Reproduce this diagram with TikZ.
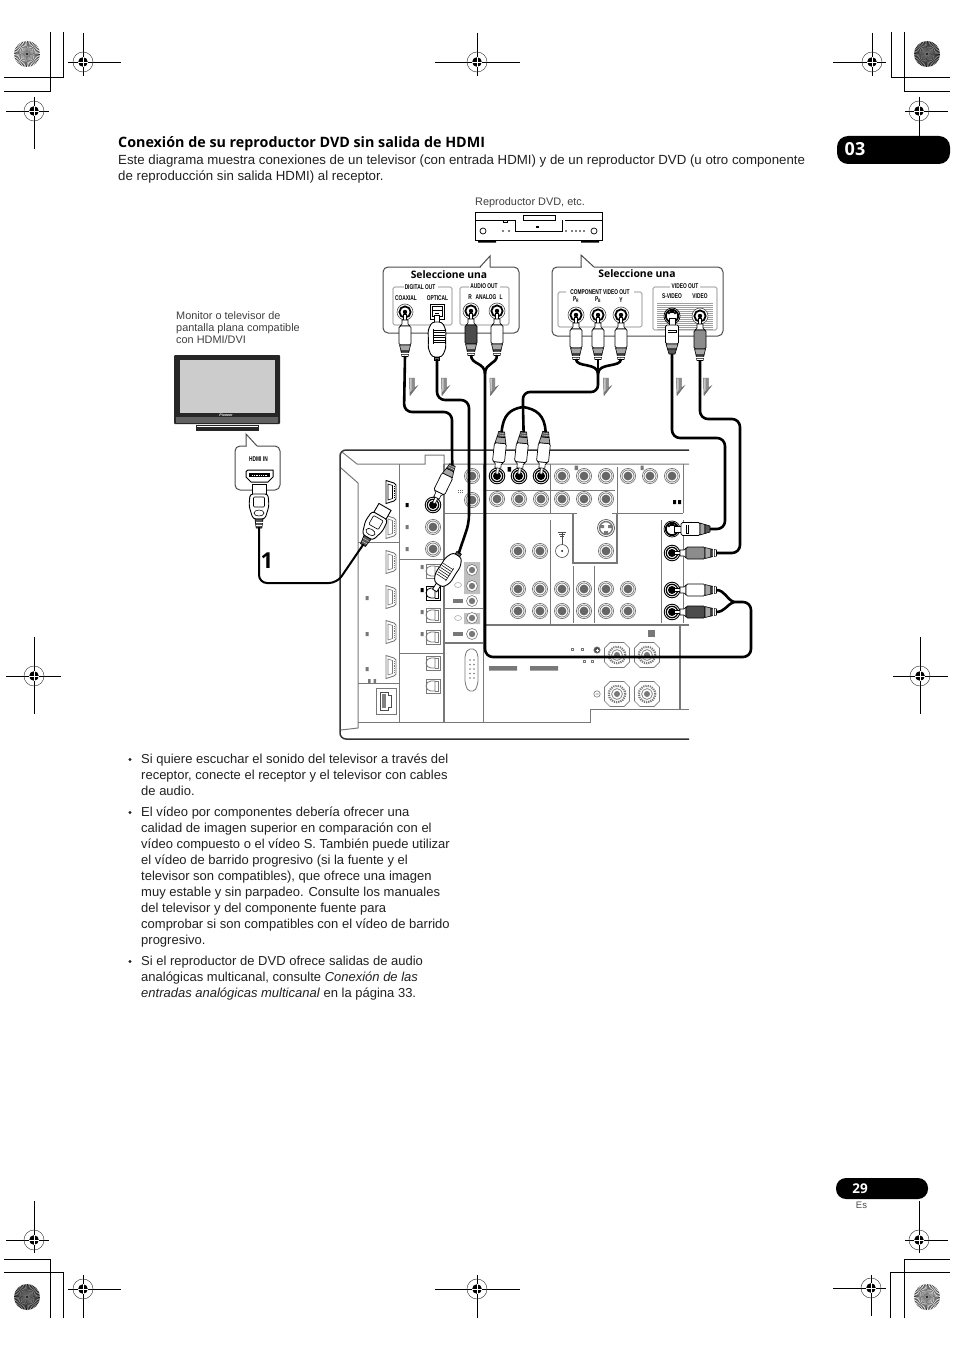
\documentclass[tikz,border=0pt]{standalone}
\usepackage{fontspec}
\usepackage{graphicx}
\setmainfont{Liberation Sans}
\newfontfamily\headfont{Open Sans}
\usetikzlibrary{calc}
\definecolor{ink}{gray}{0.13}
\definecolor{pan}{gray}{0.47}
\definecolor{soft}{gray}{0.72}
\newcommand\tinyb[1]{\scalebox{.7}[1]{\fontsize{6.9}{6.9}\selectfont\bfseries #1}}
\newcommand\regm[6]{%
  \draw[line width=.7pt] (#3,#2)--(#4,#2) (#1,#5)--(#1,#6);
  \draw[line width=.45pt,black!80] (#1,#2) circle (10pt);
  \fill[black] (#1,#2) circle (4.8pt);
  \draw[white,line width=.25pt] (#1-4.8,#2)--(#1+4.8,#2) (#1,#2-4.8)--(#1,#2+4.8);
}
\newcommand\sunb[4]{%
  \fill[gray!#3!black] (#1,#2) circle (13pt);
  \foreach \a in {0,7.5,...,352.5}{\fill[white,opacity=#4] (#1,#2) -- ++(\a:13pt) arc[start angle=\a,end angle=\a+3.6,radius=13pt] -- cycle;}
  \fill[gray!70!black,opacity=.45] (#1,#2) circle (4pt);
  \fill[black] (#1,#2) circle (1.1pt);
}
\newcommand\gbar[1]{%
  \draw[black!55,line width=.5pt,fill=black!22] (#1-3.7,378)--(#1+1.3,378)--(#1+1.3,388)--(#1+4.3,386)--(#1-3,395.5)--cycle;
  \fill[black!55] (#1+1.3,388)--(#1+4.3,386)--(#1-3,395.5)--(#1-3,392.5)--cycle;
  \fill[black!45] (#1-1.5,378)--(#1+1.3,378)--(#1+1.3,388)--(#1-1.5,391)--cycle;
}
\tikzset{
  x=1pt,y=-1pt,
  body/.style={inner sep=0pt,font=\fontsize{13}{16}\selectfont,text=ink,align=left},
  intro/.style={inner sep=0pt,font=\fontsize{13.26}{16}\selectfont,text=ink,align=left},
  grey/.style={inner sep=0pt,font=\fontsize{10.9}{12}\selectfont,text=black!75,align=left},
  lab/.style={inner sep=0pt,text=black},
  panel/.style={pan,line width=1pt},
  panelb/.style={pan,line width=1.5pt},
  edge/.style={black!80,line width=1.5pt,rounded corners=6pt},
  bubble/.style={draw=black!70,line width=1pt,fill=white,rounded corners=5pt},
  bracket/.style={draw=pan,line width=.6pt,rounded corners=1.5pt},
  cable/.style={black,line width=2.6pt,line join=round,rounded corners=8pt},
  % ---- jacks
  pics/gjack/.style={code={
    \draw[pan,line width=.7pt,fill=white] (0,0) circle (7.6pt);
    \draw[pan,line width=.7pt] (0,0) circle (6pt);
    \fill[pan!85!black] (0,0) circle (4.4pt);}},
  pics/ajack/.style={code={
    \draw[black,line width=.9pt,fill=white] (0,0) circle (7.8pt);
    \draw[black,line width=1.2pt] (0,0) circle (5.7pt);
    \fill[black] (0,0) circle (4pt);}},
  pics/djack/.style={code={
    \draw[black!70,line width=.6pt,fill=white] (0,0) circle (8pt);
    \draw[black,line width=1.8pt] (0,0) circle (5.6pt);
    \fill[black] (0,0) circle (2.2pt);}},
  pics/sjack/.style={code={
    \draw[black,line width=.7pt,fill=white] (0,0) circle (8pt);
    \draw[black,line width=1.8pt] (0,0) circle (6.2pt);
    \fill[black] (-3,-3) circle (1.3pt) (3,-3) circle (1.3pt);
    \fill[black] (-1.6,-5.5) rectangle (1.6,-3);}},
  pics/hport/.style={code={
    \draw[#1,line width=.9pt,fill=white] (-5,-11.5)--(3,-9)--(5,-7)--(5,7)--(3,9)--(-5,11.5)--cycle;
    \draw[#1,line width=.6pt] (-3,-8)--(1.5,-6.5)--(1.5,6.5)--(-3,8)--cycle;
    \draw[#1,line width=.8pt,densely dotted] (3,-6)--(3,6);}},
  pics/oport/.style={code={
    \draw[#1,line width=.8pt,fill=white] (-7,-7) rectangle (7,7);
    \draw[#1,line width=.8pt] (2,-5)--(-2,-5) arc[start angle=90,end angle=270,radius=5pt]--(2,5)--cycle;
    \draw[#1,line width=.8pt] (2,-5)--(5,-5)--(5,5)--(2,5);}},
  pics/term/.style={code={
    \draw[pan,line width=.7pt,fill=white] (-7,-12.5)--(7,-12.5)--(12.5,-7)--(12.5,7)--(7,12.5)--(-7,12.5)--(-12.5,7)--(-12.5,-7)--cycle;
    \draw[pan,line width=2.2pt,dash pattern=on 1.2pt off 1pt] (0,0) circle (8.2pt);
    \draw[pan,line width=.7pt] (0,0) circle (5.4pt);
    \fill[pan] (0,0) circle (3pt);}},
  % ---- plugs
  pics/rcaplug/.style={code={
    \draw[black,line width=.6pt,fill=white] (-1.4,2) rectangle (1.4,10);
    \draw[black,line width=.6pt,fill=white] (-3,8)--(3,8)--(3,12)--(5,14)--(-5,14)--(-3,12)--cycle;
    \draw[black,line width=.7pt,fill=#1,rounded corners=1.5pt] (-6,14) rectangle (6,33);
    \draw[black,line width=.6pt,fill=black!35] (-5.5,33)--(5.5,33)--(4,39)--(-4,39)--cycle;
    \draw[black,line width=.6pt,fill=black!65] (-4,39)--(4,39)--(3,44.5)--(-3,44.5)--cycle;
    \draw[white,line width=.3pt] (-3.6,41)--(3.6,41) (-3.2,43)--(3.2,43);
    \coordinate (-end) at (0,44);}},
  pics/svplug/.style={code={
    \draw[black,line width=.6pt,fill=white] (-3,2) rectangle (3,10);
    \draw[black,line width=.7pt,fill=white,rounded corners=1.5pt] (-6.5,9) rectangle (6.5,28);
    \fill[black] (-4.5,13.5) rectangle (4.5,17);
    \fill[white] (-4,14.8) rectangle (4,15.6);
    \draw[black,line width=.6pt,fill=black!35] (-6,28)--(6,28)--(4.5,33)--(-4.5,33)--cycle;
    \draw[black,line width=.6pt,fill=black!65] (-4.5,33)--(4.5,33)--(3,38)--(-3,38)--cycle;
    \coordinate (-end) at (0,38);}},
  pics/optplug/.style={code={
    \draw[black,line width=.8pt,fill=white] (-2.5,3) rectangle (2.5,12);
    \draw[black,line width=.9pt,fill=white,rounded corners=3pt] (-5,10)--(5,10)--(9,18)--(8.5,30)--(9,36)--(5,45)--(-5,45)--(-9,36)--(-8.5,30)--(-9,18)--cycle;
    \foreach \q in {18,20.5,...,31}{\draw[black,line width=.5pt] (-4,\q)--(7.5,\q);}
    \draw[black,line width=.5pt] (-4,17)--(-4,32);
    \draw[black,line width=.7pt,fill=black!60] (-2.6,45) rectangle (2.6,48);
    \coordinate (-end) at (0,47);}},
  pics/hdplug/.style={code={
    \draw[black,line width=.9pt,fill=white] (-7,8) rectangle (7,20);
    \draw[black,line width=.9pt,fill=white,rounded corners=3pt] (-9,18)--(9,18)--(10,30)--(6,43)--(-6,43)--(-10,30)--cycle;
    \draw[black,line width=.6pt,rounded corners=1pt] (-5.5,21) rectangle (5.5,31);
    \draw[black,line width=.6pt] (0,37) ellipse (5pt and 3pt);
    \draw[black,line width=.7pt,fill=black!65] (-4,43)--(4,43)--(2.8,52)--(-2.8,52)--cycle;
    \draw[white,line width=.3pt] (-3.5,46)--(3.5,46) (-3.2,49)--(3.2,49);
    \coordinate (-end) at (0,51);}},
}
\begin{document}
\begin{tikzpicture}
\useasboundingbox (0,0) rectangle (954,1351);
\fill[white] (0,0) rectangle (954,1351);

% ----- crop and registration marks
\draw[line width=.7pt] (63,32)--(63,77)--(4,77) (50.5,32)--(50.5,91)--(4,91);
\draw[line width=.7pt] (891,32)--(891,77)--(950,77) (904,32)--(904,91)--(950,91);
\draw[line width=.7pt] (50.5,1318)--(50.5,1259)--(4,1259) (63,1318)--(63,1272)--(4,1272);
\draw[line width=.7pt] (904,1318)--(904,1259)--(950,1259) (890.5,1318)--(890.5,1272)--(950,1272);
\regm{83}{62}{68}{121}{33}{76}
\regm{34}{111}{6}{49}{97}{149}
\regm{477}{62}{435}{520}{33}{76}
\regm{872}{62}{833}{886}{33}{76}
\regm{919}{111}{905}{948}{97}{149}
\regm{34}{676}{6}{61}{637}{714}
\regm{920}{676}{893}{948}{637}{714}
\regm{34}{1240}{6}{49}{1201}{1253}
\regm{83}{1289}{68}{121}{1275}{1318}
\regm{477}{1289}{435}{520}{1275}{1318}
\regm{871}{1288}{833}{886}{1275}{1316}
\regm{919}{1240}{905}{948}{1201}{1253}
\sunb{27}{54}{25}{.9}
\sunb{927}{54}{5}{.55}
\sunb{27}{1297}{5}{.55}
\sunb{927}{1297}{25}{.9}

% ----- page tabs
\fill[black,rounded corners=11pt] (837,136) rectangle (950,164);
\node[inner sep=0pt,text=white,font=\headfont\fontsize{18}{18}\selectfont\bfseries] (chapter) at (855,149.5) {03};
\fill[black,rounded corners=10pt] (836,1178) rectangle (928,1199);
\node[inner sep=0pt,text=white,font=\headfont\fontsize{13.5}{14}\selectfont\bfseries] (pagenum) at (860,1189) {29};
\node[inner sep=0pt,text=black!70,font=\fontsize{9.5}{10}\selectfont] (lang) at (861.5,1205.5) {Es};

% ----- headings
\node[anchor=base west,inner sep=0pt,text=black,font=\headfont\fontsize{14.3}{16}\selectfont\bfseries] (title) at (118,148) {Conexión de su reproductor DVD sin salida de HDMI};
\node[anchor=north west,intro] (introtext) at (118,154.4) {Este diagrama muestra conexiones de un televisor (con entrada HDMI) y de un reproductor DVD (u otro componente\\de reproducción sin salida HDMI) al receptor.};

% ----- bullets
\node[anchor=north west,body] (b1) at (141,754.2) {Si quiere escuchar el sonido del televisor a través del\\receptor, conecte el receptor y el televisor con cables\\de audio.};
\node[anchor=north west,body] (b2) at (141,807.2) {El vídeo por componentes debería ofrecer una\\calidad de imagen superior en comparación con el\\vídeo compuesto o el vídeo S. También puede utilizar\\el vídeo de barrido progresivo (si la fuente y el\\televisor son compatibles), que ofrece una imagen\\muy estable y sin parpadeo. Consulte los manuales\\del televisor y del componente fuente para\\comprobar si son compatibles con el vídeo de barrido\\progresivo.};
\node[anchor=north west,body] (b3) at (141,956.2) {Si el reproductor de DVD ofrece salidas de audio\\analógicas multicanal, consulte \emph{Conexión de las}\\\emph{entradas analógicas multicanal} en la página 33.};
\fill[ink] (130,759.5) circle (1.7pt) (130,812.5) circle (1.7pt) (130,961.5) circle (1.7pt);

% ----- captions
\node[anchor=west,grey] (dvdcap) at (475,202.5) {Reproductor DVD, etc.};
\node[anchor=north west,grey] (tvcap) at (176,311.5) {Monitor o televisor de\\pantalla plana compatible\\con HDMI/DVI};

% ----- DVD player
\draw[black,line width=1pt,fill=white] (475,212) rectangle (602,240);
\draw[black,line width=.7pt] (475,220)--(503,220) (507,220)--(515,220) (565,220)--(602,220);
\draw[black,line width=.7pt] (515,220)--(515,231)--(562,231)--(562,220) (503,220) rectangle (507,222);
\draw[black,line width=.8pt] (523,215) rectangle (555,220);
\fill[black] (536,226) rectangle (539,228);
\draw[black,line width=.7pt] (483,231) circle (3pt) (594,231) circle (3pt);
\foreach \q in {503,509,566,572,576,580,584}{\fill[black] (\q,231) circle (.8pt);}
\fill[black] (478,240) rectangle (496,242.5) (581,240) rectangle (599,242.5);

% ----- TV
\fill[black!85,rounded corners=1pt] (174,355) rectangle (280,424);
\fill[black!62] (176,417) rectangle (278,423);
\fill[black!20] (180,360) rectangle (275,413);
\fill[black!85] (196,425) rectangle (259,431);
\draw[white,line width=.5pt] (197,426)--(258,426);
\node[inner sep=0pt,text=white,font=\fontsize{3.6}{4}\selectfont\itshape\bfseries] (tvlogo) at (226,415.5) {Pioneer};

% ----- HDMI IN bubble
\draw[bubble] (235,446) rectangle (280,490);
\fill[white] (246.5,444) rectangle (257,448);
\draw[black!70,line width=1pt,fill=white,line join=miter] (246,446)--(246,434)--(257,446);
\node[lab] (hdmiinlbl) at (258.5,459) {\tinyb{HDMI IN}};
\draw[black,line width=1pt,fill=white] (246,471.5)--(248,470)--(273,470)--(273,477)--(268,482)--(251,482)--(246,477)--cycle;
\fill[black] (249,472.5) rectangle (270,477);
\draw[white,line width=.8pt,densely dotted] (252,475)--(267,475);

% ----- left bubble
\draw[bubble] (383,267) rectangle (519,333);
\fill[white] (480.5,265) rectangle (489.5,269);
\draw[black!70,line width=1pt,line join=miter] (480,267)--(490,256)--(490,267);
\node[lab,font=\headfont\fontsize{10.3}{10}\selectfont\bfseries] (sel1) at (449,275) {Seleccione una};
\draw[bracket] (404,287)--(393,287)--(393,325)--(452,325)--(452,287)--(438,287);
\draw[bracket] (469,287)--(460,287)--(460,325)--(509,325)--(509,287)--(500,287);
\node[lab] (digout) at (420,287) {\tinyb{DIGITAL OUT}};
\node[lab] (audout) at (484,286) {\tinyb{AUDIO OUT}};
\node[lab] (coaxlbl) at (406,298.5) {\tinyb{COAXIAL}};
\node[lab] (optlbl) at (437.5,298.5) {\tinyb{OPTICAL}};
\node[lab] (rlbl) at (470,297.5) {\tinyb{R}};
\node[lab] (anlbl) at (486,297.5) {\tinyb{ANALOG}};
\node[lab] (llbl) at (501,297.5) {\tinyb{L}};
\pic (jcoax) at (405,312) {djack};
\pic (jr) at (471,311) {djack};
\pic (jl) at (497,311) {djack};
\draw[black,line width=.8pt,fill=white] (430,304) rectangle (444,319);
\draw[black,line width=.6pt] (432,306) rectangle (442,316) (432,310)--(442,310) (435,313)--(439,313);

% ----- right bubble
\draw[bubble] (552,267) rectangle (723,336);
\fill[white] (581.5,265) rectangle (593.5,269);
\draw[black!70,line width=1pt,line join=miter] (581,267)--(581,255)--(594,267);
\node[lab,font=\headfont\fontsize{10.4}{10}\selectfont\bfseries] (sel2) at (637,274) {Seleccione una};
\draw[bracket] (566,292)--(558,292)--(558,327)--(642,327)--(642,292)--(634,292);
\draw[bracket] (670,287)--(653,287)--(653,330)--(717,330)--(717,287)--(700,287);
\node[lab] (compout) at (600,292) {\tinyb{COMPONENT VIDEO OUT}};
\node[lab] (vidout) at (685,286.5) {\tinyb{VIDEO OUT}};
\node[lab] (prlbl) at (576,300) {\tinyb{P\textsubscript{R}}};
\node[lab] (pblbl) at (598,300) {\tinyb{P\textsubscript{B}}};
\node[lab] (ylbl) at (621,300) {\tinyb{Y}};
\node[lab] (svlbl) at (672,296) {\tinyb{S-VIDEO}};
\node[lab] (vlbl) at (700,296) {\tinyb{VIDEO}};
\foreach \q in {303,305,...,329}{\draw[pan!70,line width=.4pt] (657,\q)--(713,\q);}
\pic (jpr) at (576,315) {djack};
\pic (jpb) at (598,315) {djack};
\pic (jy) at (621,315) {djack};
\pic (jsv) at (672,316) {sjack};
\pic (jv) at (700,316) {djack};

% ----- receiver rear panel
\draw[edge] (689,450)--(340,450)--(340,739)--(689,739);
\draw[panel] (342,452)--(357,464)--(425,464)--(425,455)--(444,455)--(444,464)--(689,464);
\draw[panel] (341,468)--(358,483)--(358,728)--(341,730);
\draw[panel] (358,722)--(590,722)--(590,709)--(689,709);
\draw[panel] (399,464)--(399,722);
\draw[panelb] (444,464)--(444,722);
\draw[panel] (483,464)--(483,722);
\draw[panel] (358,542)--(399,542) (399,559)--(444,559) (399,653)--(444,653) (358,683)--(399,683);
\draw[panel] (444,513)--(483,513) (444,608)--(483,608);
\draw[panelb] (444,643)--(483,643);
\draw[panel] (483,490)--(615,490) (483,513)--(577,513) (612,513)--(683,513);
\draw[panelb] (573,513)--(573,563)--(617,563)--(617,513);
\draw[panel] (550,464)--(550,513) (617,467)--(617,513) (683,464)--(683,513);
\draw[panel] (550,520)--(550,625) (573,566)--(573,623) (594,566)--(594,623) (661,520)--(661,623) (683,520)--(683,623);
\draw[panelb] (483,625)--(689,625) (680,625)--(680,709);
% gray panels behind small jacks
\fill[black!25] (464,562) rectangle (480,594) (464,613) rectangle (480,624);
% jacks on panel
\foreach \x/\y in {562/476,584/476,606/476,628/476,650/476,672/476,
  497/499,519/499,541/499,562/499,584/499,606/499,
  518/551,540/551,606/551,
  518/589,540/589,562/589,584/589,606/589,628/589,
  518/611,540/611,562/611,584/611,606/611,628/611,
  433/527,433/549,472/476,472/500}{\pic at (\x,\y) {gjack};}
\foreach \y in {570,586,601,618,634}{\draw[pan,line width=.6pt,fill=white] (472,\y) circle (5.5pt); \fill[pan] (472,\y) circle (3.2pt);}
\foreach \y in {601,634}{\fill[pan] (453,\y-1.6) rectangle (463,\y+1.6);}
\foreach \y in {585,618}{\draw[pan!60,line width=.6pt] (458,\y) ellipse (3.5pt and 2.5pt);}
\draw[black!60,line width=.5pt,dash pattern=on 1pt off 1pt] (458,490)--(463,490) (458,492)--(463,492);
\draw[black!70,line width=.6pt,fill=white] (562,551) circle (6.5pt);
\fill[black] (562,551) circle (1pt);
\draw[black!70,line width=.5pt] (562,544.5)--(562,532) (558,532)--(566,532) (559,534)--(565,534) (560,536)--(564,536);
\draw[pan!70!black,line width=.7pt,fill=white] (606,528) circle (8.5pt);
\draw[pan,line width=1.4pt] (606,528) circle (6.4pt);
\fill[pan] (600,525) rectangle (604,528) (608,525) rectangle (612,528) (604,531) rectangle (608,534);
% active jacks
\pic (pj1) at (497,476) {ajack};
\pic (pj2) at (519,476) {ajack};
\pic (pj3) at (541,476) {ajack};
\pic (pjc) at (433,505) {ajack};
\pic (pjs) at (672,529) {sjack};
\pic (pjv) at (672,553) {ajack};
\pic (pjl) at (672,590) {ajack};
\pic (pjr) at (672,612) {ajack};
% HDMI ports
\foreach \y in {527,562,597,632,667}{\pic at (391,\y) {hport=pan};}
\pic (phd) at (391,492) {hport=black};
% optical ports
\foreach \y in {571,615,637,663,686}{\pic at (433,\y) {oport=pan};}
\pic (pop) at (433,593) {oport=black};
% marks
\fill[black] (405.5,503) rectangle (408.5,507) (420.5,588) rectangle (423.5,592) (507.5,467) rectangle (511,471.5) (673,500) rectangle (676,504) (678,500) rectangle (681,504);
\fill[pan] (405.5,525) rectangle (408.5,529) (405.5,547) rectangle (408.5,551) (420.5,565) rectangle (423.5,569) (420.5,610) rectangle (423.5,614) (420.5,632) rectangle (423.5,636);
\fill[pan] (365.5,596) rectangle (368.5,600) (365.5,632) rectangle (368.5,636) (365.5,667) rectangle (368.5,671) (368,679) rectangle (370.5,683) (373.5,679) rectangle (376,683);
\fill[pan] (574.5,465.5) rectangle (578,470) (640.5,465.5) rectangle (643.5,470);
\fill[pan] (489,666) rectangle (517,670.5) (530,666) rectangle (558,670.5);
\fill[pan] (648,630) rectangle (655,637);
% ethernet
\draw[pan,line width=.9pt] (376,688) rectangle (396,714);
\draw[black!70,line width=1pt,fill=white] (380,692)--(388,692)--(388,695)--(391,695)--(391,707)--(388,707)--(388,710)--(380,710)--cycle;
\fill[black!50] (382,694) rectangle (386,708);
% RS-232
\draw[pan,line width=.8pt,fill=white,rounded corners=2pt] (468,649)--(475,649)--(478,655)--(478,683)--(475,691)--(468,691)--(465,683)--(465,655)--cycle;
\foreach \q in {660,664.5,669,673.5,678}{\fill[pan] (470,\q) circle (.8pt) (474,\q) circle (.8pt);}
% speaker terminals
\pic at (617,655) {term};
\pic at (647,655) {term};
\pic at (617,694) {term};
\pic at (647,694) {term};
\draw[pan,line width=.6pt,fill=black!70] (597,650) circle (3.2pt);
\draw[white,line width=.5pt] (595.5,650)--(598.5,650) (597,648.5)--(597,651.5);
\draw[pan,line width=.6pt] (597,694) circle (3.2pt) (595.5,694)--(598.5,694);
\foreach \a/\b in {572/649,582/649,584/661,592/661}{\draw[pan,line width=.3pt] (\a-1,\b-1) rectangle (\a+1,\b+1);}

% ----- plugs
\pic (pcoax) at (405,312) {rcaplug=white};
\pic (por) at (471,311) {rcaplug=black!70};
\pic (pol) at (497,311) {rcaplug=white};
\pic (popt) at (437,312) {optplug};
\pic (ppr) at (576,315) {rcaplug=white};
\pic (ppb) at (598,315) {rcaplug=white};
\pic (ppy) at (621,315) {rcaplug=white};
\pic (psv) at (672,316) {svplug};
\pic (pvid) at (700,316) {rcaplug=black!45};
\pic[rotate=174] (pin1) at (497,476) {rcaplug=white};
\pic[rotate=174] (pin2) at (519,476) {rcaplug=white};
\pic[rotate=174] (pin3) at (541,476) {rcaplug=white};
\pic[rotate=154] (pinc) at (433,505) {rcaplug=white};
\pic[rotate=147] (pino) at (433,593) {optplug};
\pic[rotate=90] (pins) at (672,529) {svplug};
\pic[rotate=90] (pinv) at (672,553) {rcaplug=black!45};
\pic[rotate=90] (pinl) at (672,590) {rcaplug=white};
\pic[rotate=90] (pinr) at (672,612) {rcaplug=black!70};
\pic (ptv) at (259,476) {hdplug};
\pic[rotate=-30] (prx) at (389,500) {hdplug};

% ----- cables
\coordinate (aj) at (485,374);
\coordinate (cj) at (598,374);
\coordinate (cs) at (523,407);
\coordinate (lj) at (734,602);
\draw[cable] (pcoax-end)--(404,412)--(452,412)--(452,450)--(pinc-end);
\draw[cable] (popt-end)--(437,400)--(469,400)--(469,523)--(pino-end);
\draw[cable,rounded corners=0pt] (por-end) .. controls (471,365) and (485,362) .. (aj);
\draw[cable,rounded corners=0pt] (pol-end) .. controls (497,365) and (485,362) .. (aj);
\draw[cable] (aj)--(485,657)--(751,657)--(751,602)--(lj);
\draw[cable,rounded corners=0pt] (lj) .. controls (726,599) and (725,590) .. (pinl-end);
\draw[cable,rounded corners=0pt] (lj) .. controls (726,605) and (725,612) .. (pinr-end);
\draw[cable,rounded corners=0pt] (ppr-end) .. controls (576,368) and (598,362) .. (cj);
\draw[cable,rounded corners=0pt] (ppb-end)--(cj);
\draw[cable,rounded corners=0pt] (ppy-end) .. controls (621,368) and (598,362) .. (cj);
\draw[cable,rounded corners=7pt] (cj)--(598,392)--(523,392)--(cs);
\draw[cable,rounded corners=0pt] (cs) .. controls (510,409) and (503,415) .. (pin1-end);
\draw[cable,rounded corners=0pt] (cs)--(pin2-end);
\draw[cable,rounded corners=0pt] (cs) .. controls (536,409) and (545,415) .. (pin3-end);
\draw[cable] (psv-end)--(672,438)--(725,438)--(725,529)--(pins-end);
\draw[cable] (pvid-end)--(700,419)--(740,419)--(740,553)--(pinv-end);
\draw[cable,line width=2pt] (ptv-end)--(259,583)--(337,583)--(prx-end);

% ----- direction arrows
\gbar{413}
\gbar{445}
\gbar{493.5}
\gbar{607}
\gbar{680}
\gbar{707}
% ----- step number
\node[inner sep=0pt,text=black,font=\headfont\fontsize{22}{22}\selectfont\bfseries] (step1) at (267,561) {1};
\end{tikzpicture}
\end{document}
